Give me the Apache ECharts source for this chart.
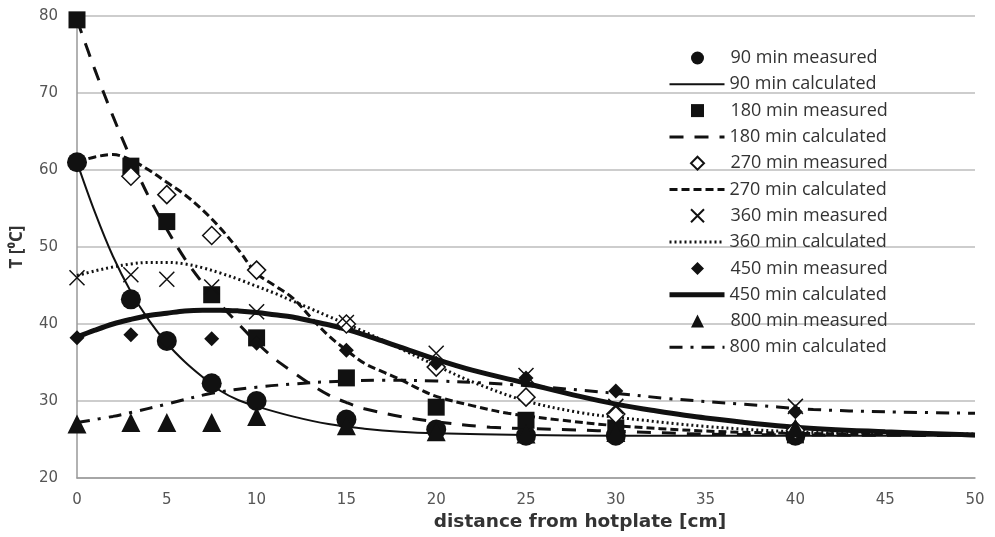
<!DOCTYPE html>
<html>
<head>
<meta charset="utf-8">
<script src="https://cdn.jsdelivr.net/npm/echarts@6/dist/echarts.min.js"></script>
<style>
  html, body { margin: 0; padding: 0; background: #fff; }
  #chart { width: 995px; height: 537px; }
</style>
</head>
<body>
<div id="chart"></div>
<script>
// distances of the measuring points [cm]
const distances = [0, 3, 5, 7.5, 10, 15, 20, 25, 30, 40];

// measured temperatures [°C]
const meas90 = [61, 43.2, 37.8, 32.3, 30, 27.6, 26.3, 25.5, 25.5, 25.5];
const meas180 = [79.5, 60.5, 53.3, 43.8, 38.2, 33, 29.2, 27.5, 26.5, 25.6];
const meas270 = [null, 59.2, 56.8, 51.5, 47, 40, 34.4, 30.5, 28.3, 26.2];
const meas360 = [46, 46.4, 45.8, 44.8, 41.6, 40.2, 36.2, 33.3, 29.3, 29.3];
const meas450 = [38.2, 38.6, 37.8, 38.1, 37.5, 36.6, 34.9, 33, 31.3, 28.6];
const meas800 = [27, 27.2, 27.2, 27.2, 28, 26.8, 26, 25.7, 25.9, 26.5];

// calculated profiles [distance, T]
const calc90 = [[0, 61], [1, 54.5], [2, 48.8], [3, 44.2], [4, 40.5], [5, 37.5], [6, 35.1], [7, 33.1],
  [8, 31.3], [9, 30.1], [10, 29.3], [12, 28], [14, 27], [16, 26.4], [18, 26], [20, 25.8], [25, 25.6],
  [30, 25.5], [40, 25.5], [50, 25.5]];
const calc180 = [[0, 79.5], [1, 73], [2, 67], [3, 61.5], [4, 56.5], [5, 52.3], [6, 48.5], [7, 45.3],
  [8, 42.5], [9, 40], [10, 37.6], [11, 35.5], [12, 33.8], [13, 32.2], [14, 30.8], [15, 29.8], [16, 29],
  [18, 28], [20, 27.3], [23, 26.6], [27, 26.3], [31, 26], [35, 25.7], [40, 25.6], [50, 25.5]];
const calc270 = [[0, 61], [1, 61.7], [2, 62], [3, 61.3], [4, 60], [5, 58.4], [6, 56.8], [7, 54.8],
  [8, 52.4], [9, 49.6], [10, 46.6], [11, 45], [12, 43.4], [13, 40.9], [14, 38.5], [15, 36.6], [16, 34.9],
  [17, 33.8], [18, 32.8], [19, 31.6], [20, 30.6], [22, 29.4], [24, 28.4], [27, 27.5], [30, 26.8],
  [35, 26.1], [40, 25.8], [50, 25.6]];
const calc360 = [[0, 46.3], [1, 46.9], [2, 47.4], [3, 47.8], [4, 48], [5, 48], [6, 47.8], [7, 47.3],
  [8, 46.6], [9, 45.8], [10, 44.9], [11, 44], [12, 43], [13, 42], [14, 41], [15, 40], [16, 39], [17, 37.9],
  [18, 36.8], [20, 34.6], [22, 32.5], [25, 30], [28, 28.5], [30, 27.9], [35, 26.7], [40, 26], [45, 25.8],
  [50, 25.7]];
const calc450 = [[0, 38.3], [1, 39.2], [2, 40], [3, 40.6], [4, 41.1], [5, 41.4], [6, 41.7], [7, 41.8],
  [8, 41.8], [9, 41.7], [10, 41.5], [11, 41.2], [12, 40.9], [13, 40.4], [14, 39.9], [15, 39.3], [16, 38.6],
  [17, 37.8], [18, 37], [20, 35.4], [22, 34], [25, 32.3], [28, 30.6], [30, 29.6], [32, 28.8], [35, 27.8],
  [40, 26.6], [45, 26], [50, 25.6]];
const calc800 = [[0, 27.2], [2, 28], [3, 28.5], [5, 29.6], [7.5, 31], [10, 31.8], [12, 32.2], [14, 32.5],
  [17, 32.7], [20, 32.6], [23, 32.3], [26, 31.8], [30, 31], [33, 30.3], [37, 29.6], [41, 28.9], [45, 28.6],
  [50, 28.4]];

const xTicks = [0, 5, 10, 15, 20, 25, 30, 35, 40, 45, 50];
const yTicks = [20, 30, 40, 50, 60, 70, 80];

const ink = '#111';
const crossPath = 'path://M0,0L10,10M10,0L0,10';
const textFont = '"Open Sans", sans-serif';
const wideFont = '"DejaVu Sans", sans-serif';

const pairs = (vals) => distances.map((d, i) => [d, vals[i]]).filter(p => p[1] != null);

const measured = (name, vals, symbol, size, extra) => Object.assign({
  name: name,
  type: 'scatter',
  data: pairs(vals),
  symbol: symbol,
  symbolSize: size,
  itemStyle: { color: ink, opacity: 1 },
  z: 3
}, extra || {});

const calculated = (name, pts, width, dash) => ({
  name: name,
  type: 'line',
  data: pts,
  smooth: 0.35,
  symbol: 'none',
  itemStyle: { color: ink },
  lineStyle: { color: ink, width: width, type: dash },
  z: 2
});

const series = [
  measured('90 min measured', meas90, 'circle', 20),
  calculated('90 min calculated', calc90, 2, 'solid'),
  measured('180 min measured', meas180, 'rect', 17),
  calculated('180 min calculated', calc180, 3, [14, 11]),
  measured('270 min measured', meas270, 'diamond', 18, {
    itemStyle: { color: '#fff', borderColor: ink, borderWidth: 1.5, opacity: 1 }
  }),
  calculated('270 min calculated', calc270, 3, [8, 4]),
  measured('360 min measured', meas360, crossPath, 15, {
    itemStyle: { color: 'none', borderColor: ink, borderWidth: 1.5, opacity: 1 }
  }),
  calculated('360 min calculated', calc360, 3, [2, 3]),
  measured('450 min measured', meas450, 'diamond', 15),
  calculated('450 min calculated', calc450, 5, 'solid'),
  measured('800 min measured', meas800, 'triangle', 19),
  calculated('800 min calculated', calc800, 3, [13, 8, 3, 8])
];

// two interleaved legends: square icons for the markers, wide icons for the lines
const rowStep = 26.3;
const legendText = { fontFamily: textFont, fontSize: 18, color: '#333', lineHeight: 18 };
const markerLegend = {
  orient: 'vertical',
  left: 688.5,
  top: 49,
  padding: 0,
  itemWidth: 13,
  itemHeight: 13,
  itemGap: rowStep * 2 - 18,
  data: series.filter(s => s.type === 'scatter').map(s => s.name),
  textStyle: Object.assign({ padding: [0, 0, 0, 21.5] }, legendText)
};
const lineLegend = {
  orient: 'vertical',
  left: 667,
  top: 49 + rowStep,
  padding: 0,
  itemWidth: 55,
  itemHeight: 13,
  itemGap: rowStep * 2 - 18,
  lineStyle: { width: 'inherit' },
  data: series.filter(s => s.type === 'line').map(s => ({ name: s.name, itemStyle: { opacity: 0 } })),
  textStyle: legendText
};

const chart = echarts.init(document.getElementById('chart'));

const option = {
  animation: false,
  backgroundColor: '#fff',
  grid: { left: 77, right: 20, top: 16, bottom: 59 },
  legend: [markerLegend, lineLegend],
  xAxis: {
    type: 'value',
    min: 0,
    max: 50,
    interval: 5,
    name: 'distance from hotplate [cm]',
    nameLocation: 'middle',
    nameGap: 33,
    nameTextStyle: { fontFamily: wideFont, fontSize: 18.5, fontWeight: 'bold', color: '#333', padding: [0, 0, 0, 108] },
    axisLine: { lineStyle: { color: '#999', width: 1.5 } },
    axisTick: { show: false },
    axisLabel: { fontFamily: wideFont, fontSize: 15, color: '#555', margin: 15, customValues: xTicks },
    splitLine: { show: false }
  },
  yAxis: {
    type: 'value',
    min: 20,
    max: 80,
    interval: 10,
    name: 'T [⁰C]',
    nameLocation: 'middle',
    nameGap: 51,
    nameTextStyle: { fontFamily: textFont, fontSize: 17, fontWeight: 'bold', color: '#333' },
    axisLine: { show: true, lineStyle: { color: '#999', width: 1.5 } },
    axisTick: { show: false },
    axisLabel: { fontFamily: wideFont, fontSize: 15, color: '#555', margin: 19, customValues: yTicks },
    splitLine: { lineStyle: { color: '#bdbdbd', width: 1.5 } }
  },
  series: series
};

chart.setOption(option);
window.addEventListener('resize', () => chart.resize());
</script>
</body>
</html>
